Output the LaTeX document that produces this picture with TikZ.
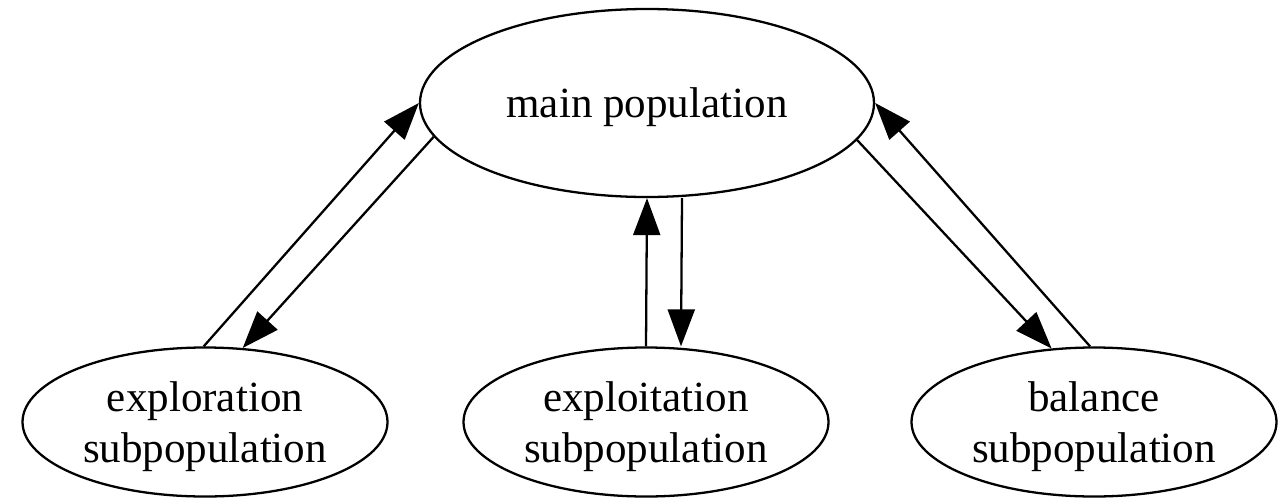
\documentclass[tikz,border=0pt]{standalone}
\usepackage{fontspec}
\setmainfont{Liberation Serif}
\usepackage{tikz}
\usetikzlibrary{shapes.geometric, arrows.meta}
\tikzstyle{pop} = [
    ellipse, draw, align=center,
    inner sep=0pt,
    text depth=-3pt,
    line width=1.3pt,
    font=\fontsize{24.5}{29.5}\selectfont,
]
\tikzstyle{mainpop} = [
    pop,
    minimum width=9.08cm,
    minimum height=3.76cm,
]
\tikzstyle{subpop} = [
    pop,
    minimum width=7.3cm,
    minimum height=2.98cm,
]
\tikzstyle{arrow} = [-{Triangle[length=0.74cm,width=0.54cm]}, line width=1.3pt]

\begin{document}
\begin{tikzpicture}
    \useasboundingbox (0,0) rectangle (25.72,10.06);
    % ellipses
    \node (main) at (12.94, 8.00) [mainpop] {main population};
    \foreach \name/\x in {exploration/4.10,exploitation/12.92,balance/21.88} {
        \node (\name) at (\x, 1.62) [subpop] {\name\\subpopulation};
    }

    % arrows
    \draw [arrow] (exploration.91) to (main.west);
    \draw [arrow] (main.189) to (exploration.63);
    \draw [arrow] (exploitation.north) to (main.south);
    \draw [arrow] ([xshift=0.7cm]main.south) to ([xshift=0.7cm]exploitation.north);
    \draw [arrow] (main.350) to (balance.120);
    \draw [arrow] (balance.93) to (main.east);

\end{tikzpicture}
\end{document}
